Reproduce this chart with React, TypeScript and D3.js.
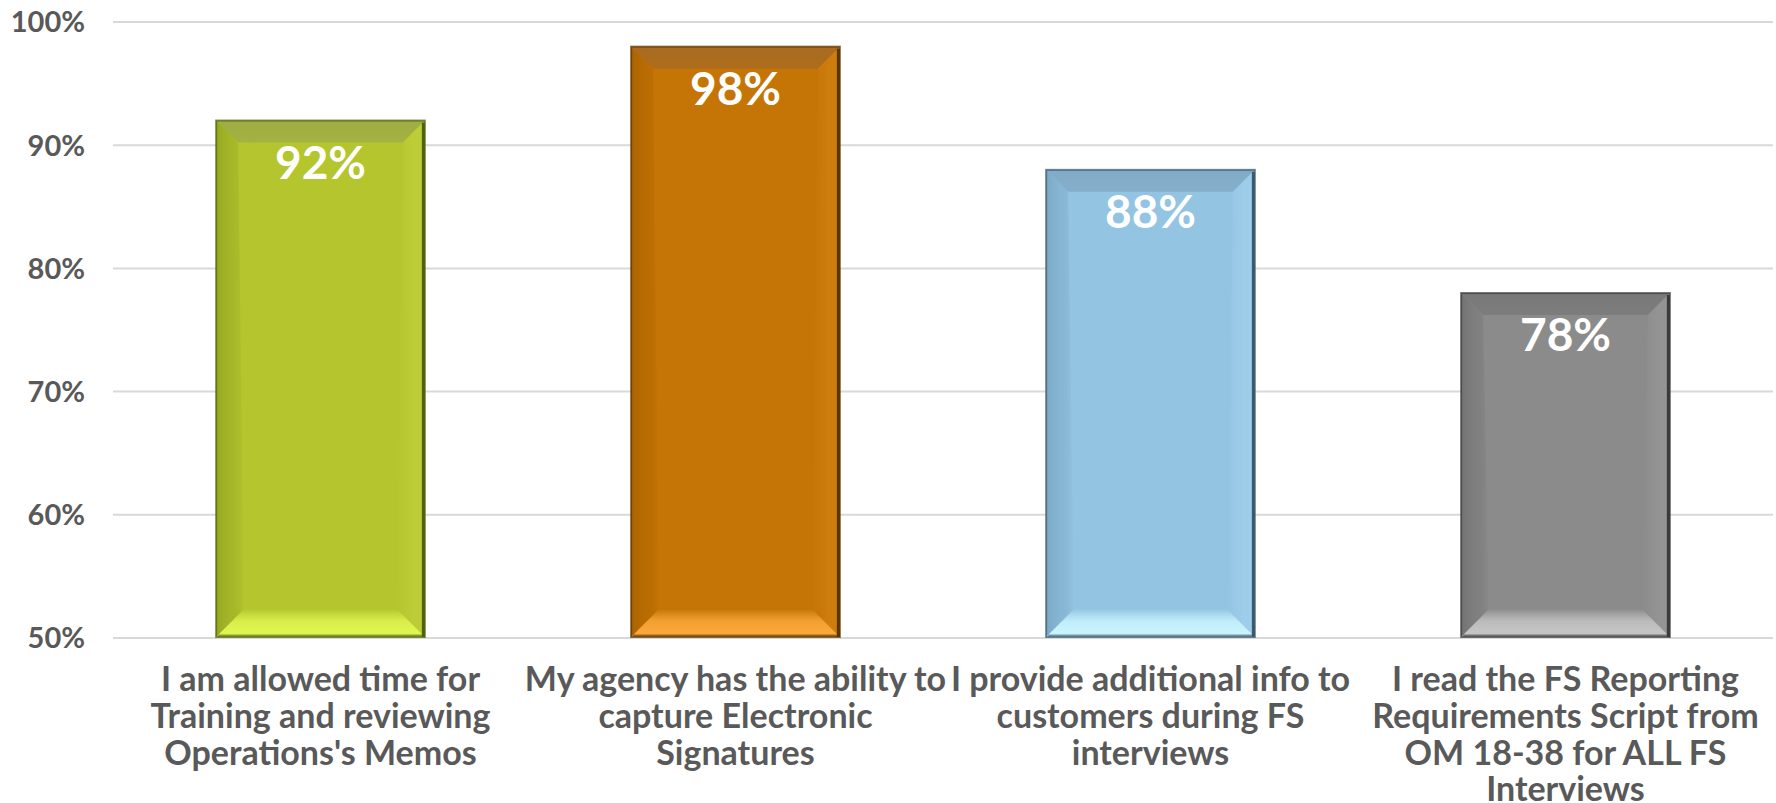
import React from "react";
import * as d3 from "d3";

const categories: string[][] = [
  ["I am allowed time for", "Training and reviewing", "Operations's Memos"],
  ["My agency has the ability to", "capture Electronic", "Signatures"],
  ["I provide additional info to", "customers during FS", "interviews"],
  ["I read the FS Reporting", "Requirements Script from", "OM 18-38 for ALL FS", "Interviews"],
];
const values: number[] = [0.92, 0.98, 0.88, 0.78];
const yTicks: number[] = [0.5, 0.6, 0.7, 0.8, 0.9, 1.0];
const palettes = [
  { main: "#b4c52e", top: "#9fad44", side: "#96a822", light: "#e2f852", outline: "#4f600c", right: "#bccd38" },
  { main: "#c47505", top: "#a96b22", side: "#ac6300", light: "#fdab3c", outline: "#5a3400", right: "#cd7c0e" },
  { main: "#93c4e2", top: "#81aac6", side: "#7ba8c5", light: "#ccf7ff", outline: "#3b586d", right: "#9ecdea" },
  { main: "#8b8b8b", top: "#797979", side: "#737373", light: "#c8c8c8", outline: "#3a3a3a", right: "#949494" },
];

const W = 1776;
const H = 803;
const plotLeft = 113;
const plotRight = 1773;
const yTop = 22;
const yBottom = 638;

export default function App() {
  const x = d3.scaleBand<number>().domain(categories.map((_, i) => i)).range([plotLeft, plotRight]).padding(0);
  const y = d3.scaleLinear().domain([0.5, 1]).range([yBottom, yTop]);
  const barW = x.bandwidth() * 0.503;
  const fmt = d3.format(".0%");
  const font = "Lato, 'Open Sans', sans-serif";

  return (
    <svg width={W} height={H} style={{ position: "absolute", left: 0, top: 0, background: "#fff" }}>
      <defs>
        {palettes.map((p, i) => (
          <g key={i}>
            <linearGradient id={`top${i}`} x1="0" y1="0" x2="0" y2="1">
              <stop offset="0" stopColor={p.top} />
              <stop offset="1" stopColor={p.top} stopOpacity="0.8" />
            </linearGradient>
            <linearGradient id={`bot${i}`} x1="0" y1="0" x2="0" y2="1">
              <stop offset="0" stopColor={p.main} />
              <stop offset="0.45" stopColor={p.light} stopOpacity="0.8" />
              <stop offset="1" stopColor={p.light} />
            </linearGradient>
            <linearGradient id={`left${i}`} x1="0" y1="0" x2="1" y2="0">
              <stop offset="0" stopColor={p.side} />
              <stop offset="0.5" stopColor={p.side} stopOpacity="0.5" />
              <stop offset="1" stopColor={p.main} />
            </linearGradient>
            <linearGradient id={`right${i}`} x1="0" y1="0" x2="1" y2="0">
              <stop offset="0" stopColor={p.main} />
              <stop offset="0.6" stopColor={p.right} />
              <stop offset="1" stopColor={p.right} />
            </linearGradient>
          </g>
        ))}
      </defs>

      {yTicks.map((t) => (
        <g key={t}>
          <line x1={plotLeft} x2={plotRight} y1={y(t)} y2={y(t)} stroke="#d9d9d9" strokeWidth={2} />
          <text
            x={85}
            y={y(t)}
            dy="0.36em"
            textAnchor="end"
            fontFamily={font}
            fontWeight={700}
            fontSize={29}
            fill="#595959"
          >
            {fmt(t)}
          </text>
        </g>
      ))}

      {values.map((v, i) => {
        const p = palettes[i];
        const cx = (x(i) as number) + x.bandwidth() / 2;
        const x0 = cx - barW / 2;
        const x1 = cx + barW / 2;
        const y0 = y(v);
        const y1 = y(0.5) - 1;
        const bt = 22;
        const bb = 28;
        const bs = 22;
        return (
          <g key={i}>
            <rect x={x0} y={y0} width={barW} height={y1 - y0} fill={p.main} />
            <polygon points={`${x0},${y0} ${x1},${y0} ${x1 - bs},${y0 + bt} ${x0 + bs},${y0 + bt}`} fill={`url(#top${i})`} />
            <polygon points={`${x0},${y0} ${x0 + bs},${y0 + bt} ${x0 + bb},${y1 - bb} ${x0},${y1}`} fill={`url(#left${i})`} />
            <polygon points={`${x1},${y0} ${x1 - bs},${y0 + bt} ${x1 - bb},${y1 - bb} ${x1},${y1}`} fill={`url(#right${i})`} />
            <polygon points={`${x0},${y1} ${x1},${y1} ${x1 - bb},${y1 - bb} ${x0 + bb},${y1 - bb}`} fill={`url(#bot${i})`} />
            <rect x={x0} y={y0} width={barW} height={y1 - y0} fill="none" stroke={p.outline} strokeWidth={2} strokeOpacity={0.7} />
            <line x1={x1 - 1.5} x2={x1 - 1.5} y1={y0 + 2} y2={y1} stroke={p.outline} strokeWidth={3} />
            <line x1={x0 + 2} x2={x1 - 2} y1={y1 - 1.5} y2={y1 - 1.5} stroke={p.outline} strokeWidth={2} strokeOpacity={0.6} />
            <text
              x={cx}
              y={y0 + 58}
              textAnchor="middle"
              fontFamily={font}
              fontWeight={700}
              fontSize={46}
              fill="#ffffff"
            >
              {fmt(v)}
            </text>
          </g>
        );
      })}

      {categories.map((lines, i) => {
        const cx = (x(i) as number) + x.bandwidth() / 2;
        return (
          <text key={i} textAnchor="middle" fontFamily={font} fontWeight={700} fontSize={34} fill="#595959">
            {lines.map((l, j) => (
              <tspan key={j} x={cx} y={691 + j * 36.8}>
                {l}
              </tspan>
            ))}
          </text>
        );
      })}
    </svg>
  );
}
